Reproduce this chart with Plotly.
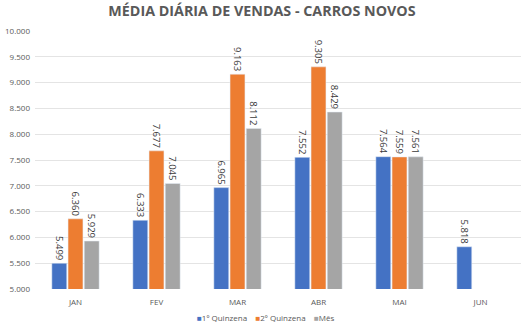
import plotly.graph_objects as go

meses = ["JAN", "FEV", "MAR", "ABR", "MAI", "JUN"]
q1 = [5499, 6333, 6965, 7552, 7564, 5818]
q2 = [6360, 7677, 9163, 9305, 7559, None]
mes = [5929, 7045, 8112, 8429, 7561, None]

names = ["1º Quinzena", "2º Quinzena", "Mês"]
colors = ["#4472C4", "#ED7D31", "#A5A5A5"]

fig = go.Figure()
for name, vals, c in zip(names, [q1, q2, mes], colors):
    fig.add_trace(go.Bar(
        x=meses, y=vals, name=name, marker_color=c, showlegend=False,
        texttemplate="%{y:,.0f}", textposition="outside", textangle=90,
        constraintext="none",
        textfont=dict(size=9.5, color="#3A3A3A", family="Open Sans"),
        cliponaxis=False,
    ))

legend_text = "&nbsp;&nbsp;&nbsp;&nbsp;".join(
    f"<span style='color:{c};font-size:8px'>■</span>{n}" for n, c in zip(names, colors)
)
fig.add_annotation(text=legend_text, xref="paper", yref="paper", x=0.474, y=-0.112,
                   xanchor="center", yanchor="middle", showarrow=False,
                   font=dict(size=8, color="#595959", family="Open Sans"))

fig.update_layout(
    width=524, height=326,
    margin=dict(l=35, r=3, t=31, b=37),
    paper_bgcolor="white", plot_bgcolor="white",
    separators=",.",
    barmode="group", bargap=0.4, bargroupgap=0.08,
    title=dict(text="<b>MÉDIA DIÁRIA DE VENDAS - CARROS NOVOS</b>", x=0.5, xanchor="center",
               y=0.965, yanchor="middle",
               font=dict(size=14.3, color="#595959", family="Open Sans")),
    font=dict(family="Open Sans", color="#595959", size=8),
    showlegend=False,
)
fig.update_yaxes(range=[5000, 10000], dtick=500, tickformat=",.0f", showgrid=True,
                 gridcolor="#E4E4E4", zeroline=False, showline=False,
                 tickfont=dict(size=8, color="#595959"), ticks="", ticklabelstandoff=4)
fig.update_xaxes(showline=False, tickfont=dict(size=8, color="#595959"),
                 ticks="outside", ticklen=5, tickcolor="rgba(0,0,0,0)")

fig.write_html("out.html")
